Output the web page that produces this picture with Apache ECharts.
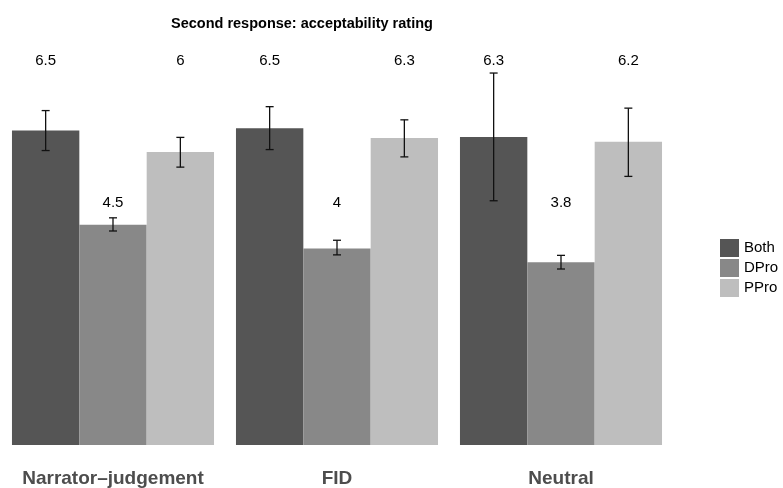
<!DOCTYPE html>
<html>
<head>
<meta charset="utf-8">
<script src="https://cdn.jsdelivr.net/npm/echarts@6/dist/echarts.min.js"></script>
<style>
html,body{margin:0;padding:0;background:#fff;}
#chart{width:783px;height:488px;}
</style>
</head>
<body>
<div id="chart"></div>
<script>
// ---- data ----
const facets = ['Narrator–judgement', 'FID', 'Neutral'];
const groups = ['Both', 'DPro', 'PPro'];
const bothMean = [6.45, 6.50, 6.32];
const dproMean = [4.52, 4.03, 3.75];
const pproMean = [6.01, 6.30, 6.22];
const bothLow  = [6.04, 6.06, 5.01];
const bothHigh = [6.86, 6.94, 7.63];
const dproLow  = [4.39, 3.90, 3.61];
const dproHigh = [4.66, 4.20, 3.89];
const pproLow  = [5.70, 5.91, 5.51];
const pproHigh = [6.31, 6.67, 6.91];
const bothText = ['6.5', '6.5', '6.3'];
const dproText = ['4.5', '4', '3.8'];
const pproText = ['6', '6.3', '6.2'];

// ---- style ----
const colors = ['#555555', '#888888', '#bebebe'];
const GAP = 0.098;
const LABEL_Y_TOP = 7.88;
const LABEL_Y_MID = 4.97;
const FONT = '"Liberation Sans", Arial, Helvetica, sans-serif';

const means = [bothMean, dproMean, pproMean];
const lows = [bothLow, dproLow, pproLow];
const highs = [bothHigh, dproHigh, pproHigh];
const texts = [bothText, dproText, pproText];
const labelYs = [LABEL_Y_TOP, LABEL_Y_MID, LABEL_Y_TOP];

function groupX(api, cat, k) {
  const c = api.coord([cat, 0])[0];
  const bw = api.size([1, 0])[0] * (1 - GAP) / 3;
  return c + (k - 1) * bw;
}

const series = [];
groups.forEach((g, k) => {
  series.push({
    name: g, type: 'bar', data: means[k],
    barGap: '0%', barCategoryGap: (GAP * 100) + '%',
    itemStyle: { color: colors[k] }, silent: true
  });
});
groups.forEach((g, k) => {
  series.push({
    type: 'custom', silent: true, z: 5,
    data: facets.map((f, i) => [i, lows[k][i], highs[k][i]]),
    renderItem: function (params, api) {
      const x = groupX(api, api.value(0), k);
      const y1 = api.coord([api.value(0), api.value(1)])[1];
      const y2 = api.coord([api.value(0), api.value(2)])[1];
      const cw = 4;
      const st = { stroke: '#111', lineWidth: 1.3 };
      return { type: 'group', children: [
        { type: 'line', shape: { x1: x, y1: y1, x2: x, y2: y2 }, style: st },
        { type: 'line', shape: { x1: x - cw, y1: y1, x2: x + cw, y2: y1 }, style: st },
        { type: 'line', shape: { x1: x - cw, y1: y2, x2: x + cw, y2: y2 }, style: st }
      ]};
    }
  });
});
groups.forEach((g, k) => {
  series.push({
    type: 'custom', silent: true, z: 6,
    data: facets.map((f, i) => [i, labelYs[k], texts[k][i]]),
    renderItem: function (params, api) {
      const x = groupX(api, api.value(0), k);
      const y = api.coord([api.value(0), api.value(1)])[1];
      return { type: 'text', style: {
        x: x, y: y, text: texts[k][params.dataIndex],
        textAlign: 'center', textVerticalAlign: 'middle',
        fontSize: 15, fontFamily: FONT, fill: '#000'
      }};
    }
  });
});

const chart = echarts.init(document.getElementById('chart'), null, { renderer: 'canvas' });
chart.setOption({
  animation: false,
  backgroundColor: '#fff',
  title: {
    text: 'Second response: acceptability rating',
    left: 166, top: 11,
    textStyle: { fontSize: 14.5, fontWeight: 'bold', color: '#000', fontFamily: FONT }
  },
  legend: {
    data: groups, orient: 'vertical', left: 715, top: 234,
    itemWidth: 19, itemHeight: 18, itemGap: 2, icon: 'rect',
    textStyle: { fontSize: 15, color: '#000', fontFamily: FONT },
    selectedMode: false
  },
  grid: { left: 1, width: 672, top: 55, height: 392 },
  xAxis: {
    type: 'category', data: facets,
    axisLine: { show: false }, axisTick: { show: false },
    axisLabel: { interval: 0, margin: 24, fontSize: 19, fontWeight: 'bold', color: '#4d4d4d', fontFamily: FONT }
  },
  yAxis: {
    type: 'value', min: 0, max: 8, show: false, splitLine: { show: false }
  },
  series: series
});
</script>
</body>
</html>
